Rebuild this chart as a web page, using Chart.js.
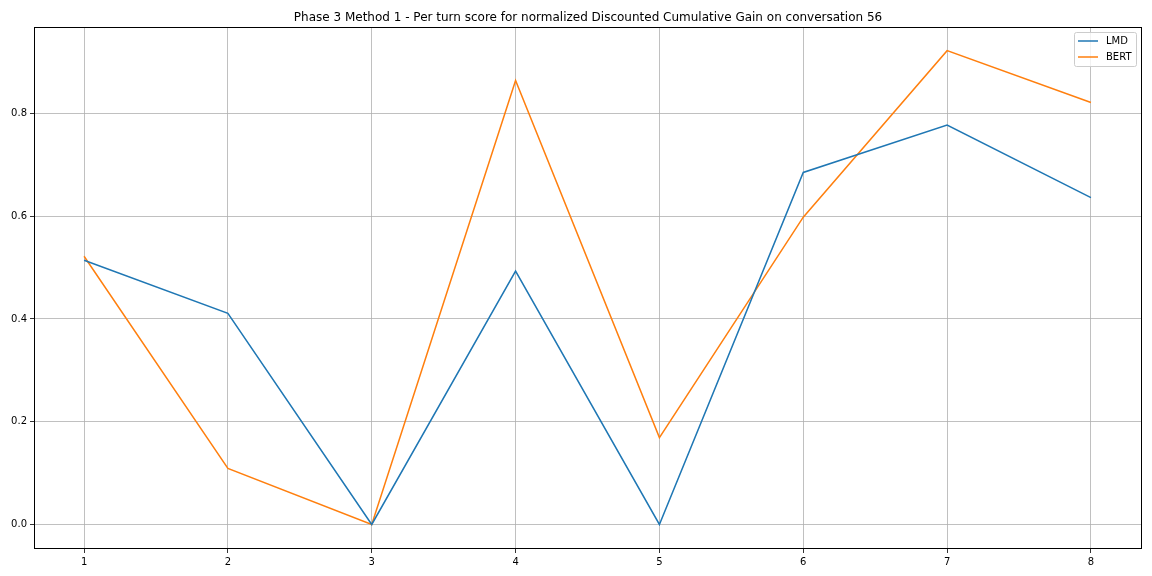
<!DOCTYPE html>
<html>
<head>
<meta charset="utf-8">
<script src="https://cdn.jsdelivr.net/npm/chart.js@4"></script>
<style>
html,body{margin:0;padding:0;background:#fff;}
#wrap{width:1152px;height:576px;}
</style>
</head>
<body>
<div id="wrap"><canvas id="c" width="1152" height="576"></canvas></div>
<script>
const titleText = "Phase 3 Method 1 - Per turn score for normalized Discounted Cumulative Gain on conversation 56";
const turns = [1, 2, 3, 4, 5, 6, 7, 8];
const lmdValues = [0.514, 0.411, 0.0, 0.493, 0.0, 0.685, 0.777, 0.636];
const bertValues = [0.522, 0.109, 0.0, 0.864, 0.169, 0.598, 0.922, 0.821];
const xTicks = [1, 2, 3, 4, 5, 6, 7, 8];
const yTicks = [0.0, 0.2, 0.4, 0.6, 0.8];
const seriesNames = ["LMD", "BERT"];

const FONT = "'DejaVu Sans', sans-serif";

const decor = {
  id: 'decor',
  afterDatasetsDraw(chart) {
    const ctx = chart.ctx, a = chart.chartArea;
    ctx.save();
    // spines
    ctx.strokeStyle = '#000';
    ctx.lineWidth = 1;
    ctx.strokeRect(Math.round(a.left) + 0.5, Math.round(a.top) + 0.5,
      Math.round(a.right - a.left) - 1, Math.round(a.bottom - a.top) - 1);
    // title
    ctx.fillStyle = '#000';
    ctx.font = '12px ' + FONT;
    ctx.textAlign = 'center';
    ctx.textBaseline = 'alphabetic';
    ctx.fillText(titleText, (a.left + a.right) / 2, a.top - 6);
    // legend
    const bw = 62, bh = 34;
    const bx = a.right - 6 - bw, by = a.top + 5;
    ctx.fillStyle = 'rgba(255,255,255,0.8)';
    ctx.strokeStyle = '#cccccc';
    ctx.lineWidth = 1;
    ctx.beginPath();
    if (ctx.roundRect) ctx.roundRect(bx + 0.5, by + 0.5, bw, bh, 2); else ctx.rect(bx + 0.5, by + 0.5, bw, bh);
    ctx.fill();
    ctx.stroke();
    ctx.font = '10px ' + FONT;
    ctx.textAlign = 'left';
    ctx.textBaseline = 'middle';
    chart.data.datasets.forEach((ds, i) => {
      const ly = by + 9 + i * 16;
      ctx.strokeStyle = ds.borderColor;
      ctx.lineWidth = 1.5;
      ctx.beginPath();
      ctx.moveTo(bx + 4, ly);
      ctx.lineTo(bx + 24, ly);
      ctx.stroke();
      ctx.fillStyle = '#000';
      ctx.fillText(ds.label, bx + 32, ly + 0.5);
    });
    ctx.restore();
  }
};

new Chart(document.getElementById('c'), {
  type: 'line',
  data: {
    datasets: [
      { label: seriesNames[0], data: turns.map((t, i) => ({ x: t, y: lmdValues[i] })),
        borderColor: '#1f77b4', backgroundColor: '#1f77b4', borderWidth: 1.5, pointRadius: 0, tension: 0 },
      { label: seriesNames[1], data: turns.map((t, i) => ({ x: t, y: bertValues[i] })),
        borderColor: '#ff7f0e', backgroundColor: '#ff7f0e', borderWidth: 1.5, pointRadius: 0, tension: 0 }
    ]
  },
  options: {
    responsive: false,
    animation: false,
    devicePixelRatio: 1,
    layout: { padding: { top: 27, right: 10, left: 0, bottom: 0 } },
    plugins: { legend: { display: false }, title: { display: false }, tooltip: { enabled: false } },
    scales: {
      x: {
        type: 'linear', min: 0.652, max: 8.355,
        afterBuildTicks(s) { s.ticks = xTicks.map(v => ({ value: v })); },
        afterFit(s) { s.height = 27; },
        grid: { color: '#b0b0b0', lineWidth: 0.8, tickColor: '#000', tickLength: 4, drawTicks: true },
        border: { display: false },
        ticks: { color: '#000', font: { family: FONT, size: 10 }, padding: 3, maxRotation: 0,
          callback: v => String(v) }
      },
      y: {
        type: 'linear', min: -0.0477, max: 0.968,
        afterBuildTicks(s) { s.ticks = yTicks.map(v => ({ value: v })); },
        afterFit(s) { s.width = 34; },
        grid: { color: '#b0b0b0', lineWidth: 0.8, tickColor: '#000', tickLength: 4, drawTicks: true },
        border: { display: false },
        ticks: { color: '#000', font: { family: FONT, size: 10 }, padding: 3,
          callback: v => Number(v).toFixed(1) }
      }
    }
  },
  plugins: [decor]
});
</script>
</body>
</html>
